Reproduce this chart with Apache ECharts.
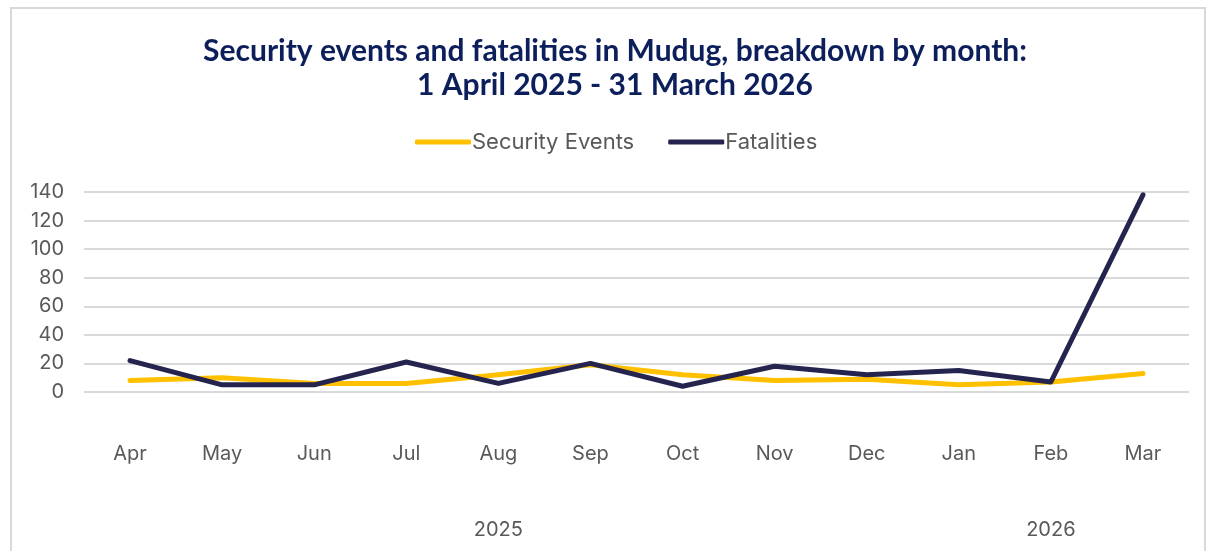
<!DOCTYPE html>
<html>
<head>
<meta charset="utf-8">
<script src="https://cdn.jsdelivr.net/npm/echarts@6/dist/echarts.min.js"></script>
<style>
  html, body { margin: 0; padding: 0; background: #fff; }
  #frame {
    position: absolute; left: 10px; top: 7px; width: 1196px; height: 560px;
    border: 2px solid #d9d9d9; box-sizing: border-box;
  }
  #chart { position: absolute; left: 0; top: 0; width: 1214px; height: 551px; }
</style>
</head>
<body>
<div id="frame"></div>
<div id="chart"></div>
<script>
// months on the axis
const months = ['Apr', 'May', 'Jun', 'Jul', 'Aug', 'Sep', 'Oct', 'Nov', 'Dec', 'Jan', 'Feb', 'Mar'];
const securityEvents = [8, 10, 6, 6, 12, 19, 12, 8, 9, 5, 7, 13];
const fatalities = [22, 5, 5, 21, 6, 20, 4, 18, 12, 15, 7, 138];
// year labels sit under the middle of their months
const years = ['2025', '2026'];
const yearCentres = [4.5, 10.5];

const labelColor = '#595959';
const labelFont = 'Inter';

const chart = echarts.init(document.getElementById('chart'));
chart.setOption({
  title: {
    text: 'Security events and fatalities in Mudug, breakdown by month:\n1 April 2025 - 31 March 2026',
    left: 610,
    textAlign: 'center',
    top: 29,
    textStyle: {
      fontFamily: 'Lato',
      fontWeight: 'bold',
      fontSize: 30,
      lineHeight: 34,
      color: '#0c1f5b',
    },
  },
  legend: {
    top: 126,
    left: 410,
    itemWidth: 56,
    itemHeight: 5,
    itemGap: 34,
    icon: 'roundRect',
    textStyle: { fontFamily: labelFont, fontSize: 22, color: labelColor, padding: [0, 0, 0, -4] },
    data: ['Security Events', 'Fatalities'],
  },
  grid: { left: 84, right: 25, top: 192, height: 200 },
  xAxis: [{
    type: 'category',
    data: months,
    boundaryGap: true,
    axisLine: { show: false },
    axisTick: { show: false },
    axisLabel: { margin: 52, fontFamily: labelFont, fontSize: 20, color: labelColor },
  }, {
    type: 'value',
    position: 'bottom',
    min: 0,
    max: 12,
    interval: 1.5,
    axisLine: { show: false },
    axisTick: { show: false },
    splitLine: { show: false },
    axisLabel: {
      margin: 128,
      fontFamily: labelFont,
      fontSize: 20,
      color: labelColor,
      formatter: v => {
        const i = yearCentres.indexOf(v);
        return i >= 0 ? years[i] : '';
      },
    },
  }],
  yAxis: {
    type: 'value',
    min: 0,
    max: 140,
    interval: 20,
    axisLine: { show: false },
    axisTick: { show: false },
    axisLabel: { margin: 20, fontFamily: labelFont, fontSize: 20, color: labelColor },
    splitLine: { lineStyle: { color: '#d9d9d9', width: 2 } },
  },
  series: [{
    name: 'Security Events',
    type: 'line',
    data: securityEvents,
    symbol: 'none',
    color: '#ffc000',
    lineStyle: { width: 5, cap: 'round', join: 'round' },
  }, {
    name: 'Fatalities',
    type: 'line',
    data: fatalities,
    symbol: 'none',
    color: '#25244f',
    lineStyle: { width: 5, cap: 'round', join: 'round' },
  }],
});
</script>
</body>
</html>
